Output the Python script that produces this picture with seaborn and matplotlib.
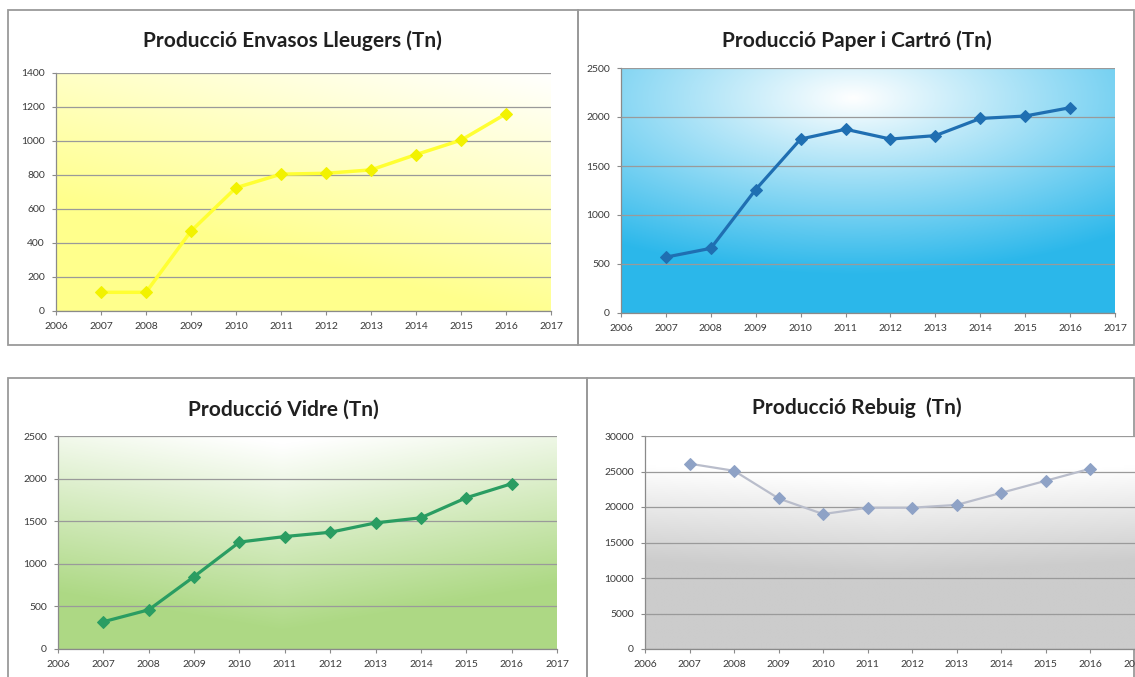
import numpy as np
import pandas as pd
import matplotlib
matplotlib.use("Agg")
import matplotlib.pyplot as plt
import seaborn as sns
from matplotlib.patches import Rectangle

# ---------------- data ----------------
years = [2007, 2008, 2009, 2010, 2011, 2012, 2013, 2014, 2015, 2016]
envasos = [110, 110, 470, 725, 805, 810, 830, 920, 1005, 1160]
paper = [570, 660, 1260, 1775, 1875, 1775, 1810, 1985, 2010, 2095]
vidre = [320, 460, 850, 1255, 1320, 1370, 1480, 1540, 1775, 1940]
rebuig = [26100, 25100, 21200, 19000, 19900, 19900, 20300, 22000, 23700, 25400]

titles = ["Producció Envasos Lleugers (Tn)", "Producció Paper i Cartró (Tn)",
          "Producció Vidre (Tn)", "Producció Rebuig  (Tn)"]
x_ticks = list(range(2006, 2018))

sns.set_style("white")
plt.rcParams['font.family'] = ['Lato', 'DejaVu Sans']

W, H = 1135, 677
fig = plt.figure(figsize=(W / 100, H / 100), dpi=100)


def axes_px(x0, x1, ytop, ybot):
    return fig.add_axes([x0 / W, 1 - ybot / H, (x1 - x0) / W, (ybot - ytop) / H])


def border(x0, x1, y0, y1):
    fig.add_artist(Rectangle((x0 / W, 1 - y1 / H), (x1 - x0) / W, (y1 - y0) / H,
                             transform=fig.transFigure, fill=False,
                             ec="#9a9a9a", lw=1.3, zorder=0))


n = 200
u, v = np.meshgrid(np.linspace(0, 1, n), np.linspace(1, 0, n))  # v=1 top


def blend(w, base):
    w = np.clip(w, 0, 1)[..., None]
    base = np.array(base)[None, None, :]
    return w * 1.0 + (1 - w) * base


bg_yellow = blend(v * 0.95 + u * 0.5 - 0.45, (1.0, 1.0, 0.55))
d = np.sqrt(((u - 0.47) / 1.0) ** 2 + ((v - 0.88) / 0.85) ** 2)
bg_blue = blend(1 - d / 0.85, (0.17, 0.72, 0.92))
bg_green = blend(v * 1.15 - 0.1 - np.abs(u - 0.45) * 0.45, (0.68, 0.85, 0.52))
bg_grey = blend((v - 0.35) / 0.45 - np.abs(u - 0.5) * 0.25, (0.80, 0.80, 0.80))


def panel(ax, vals, ymax, ystep, bg, color, mcolor, lw, title, tx, ty):
    ax.imshow(bg, extent=(0, 1, 0, 1), transform=ax.transAxes, aspect='auto',
              zorder=0, interpolation='bilinear')
    df = pd.DataFrame({"year": years, "val": vals})
    sns.lineplot(data=df, x="year", y="val", ax=ax, color=color, lw=lw,
                 marker="D", markersize=6, markerfacecolor=mcolor,
                 markeredgecolor=mcolor, zorder=3)
    ax.set_xlim(2006, 2017)
    ax.set_ylim(0, ymax)
    ax.set_xticks(x_ticks)
    ax.set_yticks(np.arange(0, ymax + 1, ystep))
    ax.set_xlabel("")
    ax.set_ylabel("")
    ax.grid(axis='y', color="#9a9a9a", lw=0.9, zorder=1)
    ax.set_axisbelow(False)
    for s in ["top", "right"]:
        ax.spines[s].set_visible(False)
    for s in ["left", "bottom"]:
        ax.spines[s].set_color("#8a8a8a")
        ax.spines[s].set_linewidth(0.9)
    ax.tick_params(axis='both', labelsize=7.5, colors="#8a8a8a", labelcolor="#3a3a3a",
                   length=3, width=0.8, direction='out', left=True, bottom=True)
    ax.tick_params(axis='x', pad=5)
    ax.tick_params(axis='y', pad=5)
    fig.text(tx / W, 1 - ty / H, title, ha='center', va='center',
             fontsize=15, fontweight='bold', color="#202020")


ax1 = axes_px(56, 551, 73, 311)
panel(ax1, envasos, 1400, 200, bg_yellow, "#FFFF33", "#F2F200", 2.5, titles[0], 292, 41)

ax2 = axes_px(621, 1115, 68, 313)
panel(ax2, paper, 2500, 500, bg_blue, "#1F6FB2", "#1F6FB2", 2.3, titles[1], 857, 41)

ax3 = axes_px(58, 557, 436, 649)
panel(ax3, vidre, 2500, 500, bg_green, "#2A9D62", "#2A9D62", 2.3, titles[2], 283, 410)

ax4 = axes_px(645, 1135, 436, 649)
panel(ax4, rebuig, 30000, 5000, bg_grey, "#B9BDCB", "#8EA2C6", 1.6, titles[3], 857, 408)

border(8, 578, 10, 345)
border(578, 1134, 10, 345)
border(8, 587, 378, 690)
border(587, 1134, 378, 690)

fig.savefig("out.png", dpi=100)
